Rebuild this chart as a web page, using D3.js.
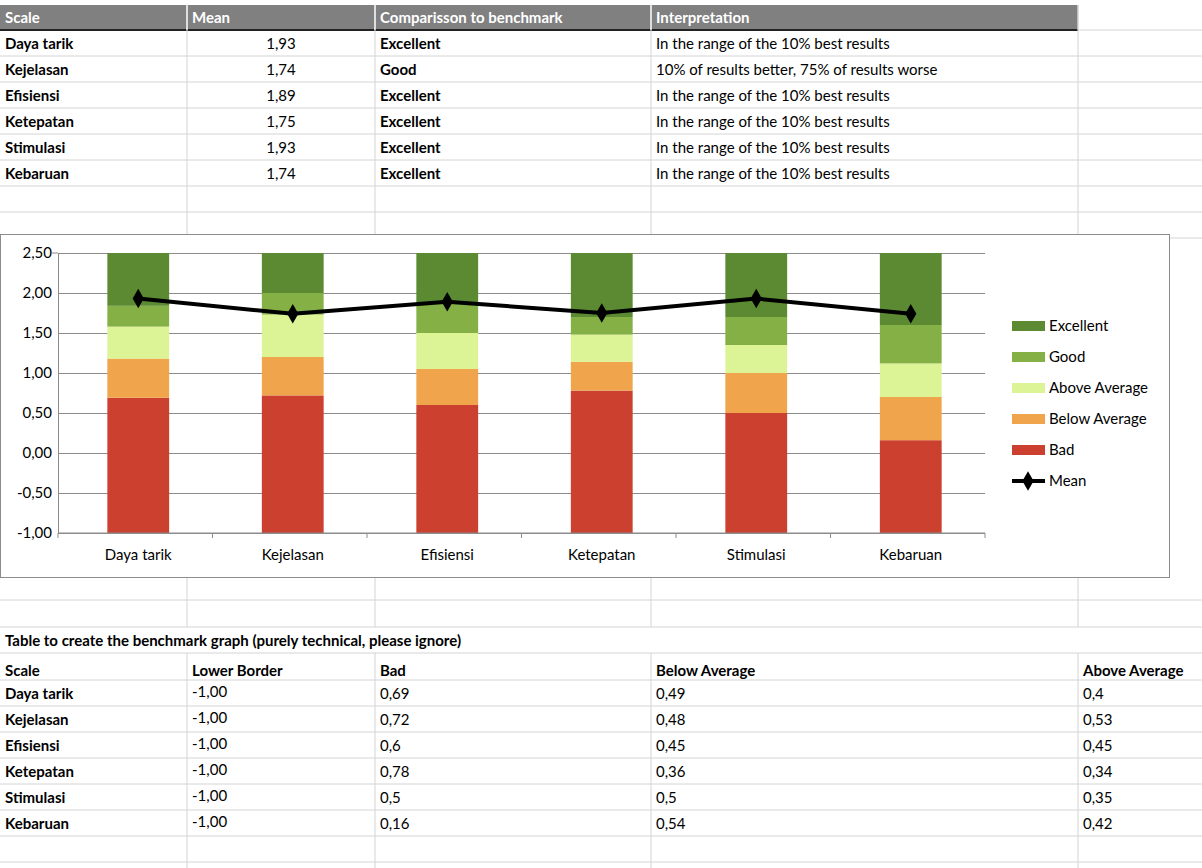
<!DOCTYPE html>
<html>
<head>
<meta charset="utf-8">
<script src="https://cdn.jsdelivr.net/npm/d3@7"></script>
<style>
body { margin: 0; background: #fff; font-family: Lato, "Open Sans", sans-serif; }
svg text { font-family: Lato, "Open Sans", sans-serif; }
</style>
</head>
<body>
<svg id="sheet" width="1202" height="868"></svg>
<script>
const scales = ['Daya tarik', 'Kejelasan', 'Efisiensi', 'Ketepatan', 'Stimulasi', 'Kebaruan'];
const means = [1.93, 1.74, 1.89, 1.75, 1.93, 1.74];
const comparison = ['Excellent', 'Good', 'Excellent', 'Excellent', 'Excellent', 'Excellent'];
const interpretation = [
    'In the range of the 10% best results',
    '10% of results better, 75% of results worse',
    'In the range of the 10% best results',
    'In the range of the 10% best results',
    'In the range of the 10% best results',
    'In the range of the 10% best results'
];
const lowerBorder = [-1, -1, -1, -1, -1, -1];
const bad = [0.69, 0.72, 0.6, 0.78, 0.5, 0.16];
const belowAvg = [0.49, 0.48, 0.45, 0.36, 0.5, 0.54];
const aboveAvg = [0.4, 0.53, 0.45, 0.34, 0.35, 0.42];
const good = [0.26, 0.27, 0.38, 0.22, 0.35, 0.48];
const excellent = [0.66, 0.50, 0.62, 0.80, 0.80, 0.90];
const yTicks = [-1, -0.5, 0, 0.5, 1, 1.5, 2, 2.5];

const seriesNames = ['Bad', 'Below Average', 'Above Average', 'Good', 'Excellent'];
const seriesColors = ['#cb402e', '#f0a54c', '#dcf396', '#84b045', '#5b8a32'];
const seriesData = [bad, belowAvg, aboveAvg, good, excellent];

const svg = d3.select('#sheet');
const fmt = v => d3.format('.2f')(v).replace('.', ',').replace('−', '-');
const cols = [0, 187, 375, 651, 1078, 1202];
const gridColor = '#d4d4d4';
const fs = 15;

// ---- top table ----
const rowH = 26;
const topY = 5;
svg.append('rect').attr('x', 0).attr('y', topY).attr('width', 1078).attr('height', 25).attr('fill', '#808080');
svg.append('line').attr('x1', 0).attr('x2', 1078).attr('y1', 30).attr('y2', 30).attr('stroke', '#222').attr('stroke-width', 2);
for (let r = 1; r <= 8; r++) {
    const y = 30 + r * rowH;
    svg.append('line').attr('x1', 0).attr('x2', 1202).attr('y1', y).attr('y2', y).attr('stroke', gridColor);
}
svg.append('line').attr('x1', 1078).attr('x2', 1202).attr('y1', 30).attr('y2', 30).attr('stroke', gridColor);
cols.slice(1, 5).forEach((x, i) => {
    svg.append('line').attr('x1', x).attr('x2', x).attr('y1', topY).attr('y2', 30)
        .attr('stroke', i < 3 ? '#fff' : gridColor).attr('stroke-width', 1.5);
    svg.append('line').attr('x1', x).attr('x2', x).attr('y1', 30).attr('y2', 234).attr('stroke', gridColor);
});
['Scale', 'Mean', 'Comparisson to benchmark', 'Interpretation'].forEach((h, i) => {
    svg.append('text').attr('x', cols[i] + 5).attr('y', 23).attr('fill', '#fff')
        .attr('font-size', fs).attr('font-weight', 'bold').text(h);
});
scales.forEach((s, i) => {
    const y = 30 + i * rowH + 19;
    svg.append('text').attr('x', 5).attr('y', y).attr('font-size', fs).attr('font-weight', 'bold').text(s);
    svg.append('text').attr('x', 281).attr('y', y).attr('font-size', fs).attr('text-anchor', 'middle').text(fmt(means[i]));
    svg.append('text').attr('x', 380).attr('y', y).attr('font-size', fs).attr('font-weight', 'bold').text(comparison[i]);
    svg.append('text').attr('x', 656).attr('y', y).attr('font-size', fs).text(interpretation[i]);
});

// ---- bottom table ----
const botLines = [600, 627, 653, 680, 706, 732, 758, 784, 810, 836, 862];
botLines.forEach(y => svg.append('line').attr('x1', 0).attr('x2', 1202).attr('y1', y).attr('y2', y).attr('stroke', gridColor));
cols.slice(1, 5).forEach(x => {
    svg.append('line').attr('x1', x).attr('x2', x).attr('y1', 577).attr('y2', 627).attr('stroke', gridColor);
    svg.append('line').attr('x1', x).attr('x2', x).attr('y1', 653).attr('y2', 868).attr('stroke', gridColor);
});
svg.append('text').attr('x', 5).attr('y', 646).attr('font-size', fs).attr('font-weight', 'bold')
    .text('Table to create the benchmark graph (purely technical, please ignore)');
['Scale', 'Lower Border', 'Bad', 'Below Average', 'Above Average'].forEach((h, i) => {
    svg.append('text').attr('x', cols[i] + 5).attr('y', 676).attr('font-size', fs).attr('font-weight', 'bold').text(h);
});
const trim = v => String(v).replace('.', ',');
scales.forEach((s, i) => {
    const y = 680 + i * 26 + 19;
    svg.append('text').attr('x', 5).attr('y', y).attr('font-size', fs).attr('font-weight', 'bold').text(s);
    svg.append('text').attr('x', 192).attr('y', y - 2).attr('font-size', fs).text(fmt(lowerBorder[i]));
    svg.append('text').attr('x', 380).attr('y', y).attr('font-size', fs).text(trim(bad[i]));
    svg.append('text').attr('x', 656).attr('y', y).attr('font-size', fs).text(trim(belowAvg[i]));
    svg.append('text').attr('x', 1083).attr('y', y).attr('font-size', fs).text(trim(aboveAvg[i]));
});

// ---- chart ----
svg.append('rect').attr('x', 0.5).attr('y', 234.5).attr('width', 1169).attr('height', 343)
    .attr('fill', '#fff').attr('stroke', '#8c8c8c');
const chart = svg.append('g');
const x = d3.scaleBand().domain(scales).range([61, 988]).paddingInner(0.6).paddingOuter(0.3);
const y = d3.scaleLinear().domain([-1, 2.5]).range([533, 253]);

chart.append('g').attr('transform', 'translate(58,0)')
    .call(d3.axisLeft(y).tickValues(yTicks).tickFormat(fmt).tickSize(-927).tickSizeOuter(0))
    .call(g => g.select('.domain').attr('stroke', '#8c8c8c'))
    .call(g => g.selectAll('.tick line').attr('stroke', '#8c8c8c'))
    .call(g => g.selectAll('.tick text').attr('x', -6).attr('font-size', fs).attr('fill', '#000'));
chart.append('line').attr('x1', 52).attr('x2', 58).attr('y1', y(2.5)).attr('y2', y(2.5)).attr('stroke', '#8c8c8c');

// stacked bars
scales.forEach((s, i) => {
    let top = 0;
    seriesData.forEach((arr, k) => {
        top = top + arr[i];
        const y0 = k === 0 ? lowerBorder[i] : top - arr[i];
        chart.append('rect').attr('x', x(s)).attr('width', x.bandwidth())
            .attr('y', y(Math.min(top, 2.5))).attr('height', y(y0) - y(Math.min(top, 2.5)))
            .attr('fill', seriesColors[k]);
    });
});

// x axis
const xAx = chart.append('g').attr('transform', `translate(0,${y(-1)})`);
xAx.append('line').attr('x1', 58).attr('x2', 985).attr('stroke', '#8c8c8c');
const step = 927 / scales.length;
d3.range(scales.length + 1).forEach(j => xAx.append('line').attr('x1', 58 + j * step).attr('x2', 58 + j * step)
    .attr('y1', 0).attr('y2', 5).attr('stroke', '#8c8c8c'));
scales.forEach(s => xAx.append('text').attr('x', x(s) + x.bandwidth() / 2).attr('y', 27)
    .attr('text-anchor', 'middle').attr('font-size', fs).text(s));

// mean line
const line = d3.line().x((d, i) => x(scales[i]) + x.bandwidth() / 2).y(d => y(d));
chart.append('path').datum(means).attr('d', line).attr('fill', 'none').attr('stroke', '#000').attr('stroke-width', 4);
const diamond = d3.symbol().type(d3.symbolDiamond).size(110);
means.forEach((m, i) => chart.append('path').attr('d', diamond)
    .attr('transform', `translate(${x(scales[i]) + x.bandwidth() / 2},${y(m)})`).attr('fill', '#000'));

// legend
const legend = chart.append('g').attr('transform', 'translate(1012,326)');
seriesNames.slice().reverse().forEach((n, j) => {
    const k = seriesNames.length - 1 - j;
    legend.append('rect').attr('x', 0).attr('y', j * 31 - 5).attr('width', 33).attr('height', 10).attr('fill', seriesColors[k]);
    legend.append('text').attr('x', 37).attr('y', j * 31 + 5).attr('font-size', fs).text(n);
});
legend.append('line').attr('x1', 0).attr('x2', 33).attr('y1', 155).attr('y2', 155).attr('stroke', '#000').attr('stroke-width', 4);
legend.append('path').attr('d', diamond).attr('transform', 'translate(16,155)').attr('fill', '#000');
legend.append('text').attr('x', 37).attr('y', 160).attr('font-size', fs).text('Mean');
</script>
</body>
</html>
